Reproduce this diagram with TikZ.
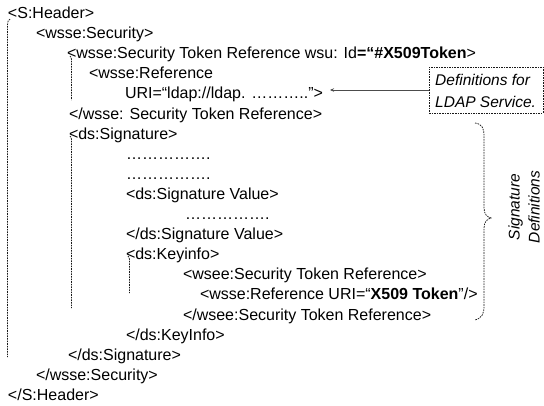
\documentclass[tikz,border=0pt]{standalone}
\usepackage{fontspec}
\setmainfont{Liberation Sans}
\usetikzlibrary{arrows.meta}
\tikzset{
  code/.style={anchor=base west, inner sep=0pt, outer sep=0pt, font=\fontsize{16}{19}\selectfont},
  guide/.style={draw=black!90, line width=0.75pt, dash pattern=on 1.6pt off 1pt},
  note/.style={guide, inner sep=0pt, minimum width=114pt, minimum height=46pt},
  notetext/.style={anchor=base west, inner sep=0pt, font=\fontsize{15.5}{19}\selectfont\itshape},
  arr/.style={draw=black!70, line width=1pt, -{Stealth[length=4pt,width=3.5pt]}}
}
\begin{document}
\begin{tikzpicture}[x=1pt,y=-1pt]
\useasboundingbox (0,0) rectangle (544,405);
% rows: baseline = 18.5 + 20.1*i
\node[code] (r0)  at (8,18.5)   {<S:Header>};
\node[code] (r1)  at (36,38.6)  {<wsse:Security>};
\node[code] (r2)  at (67,58.7)  {<wsse:Security Token Reference wsu: Id\textbf{=“\#X509Token}>};
\node[code] (r3)  at (89,78.8)  {<wsse:Reference};
\node[code] (r4)  at (125,98.9) {URI=“ldap://ldap. ………..”>};
\node[code] (r5)  at (69,119.0) {</wsse: Security Token Reference>};
\node[code] (r6)  at (69,139.1) {<ds:Signature>};
\node[code] (r7)  at (126,159.2) {…………….};
\node[code] (r8)  at (126,179.3) {…………….};
\node[code] (r9)  at (126,199.4) {<ds:Signature Value>};
\node[code] (r10) at (185,219.5) {…………….};
\node[code] (r11) at (126,239.6) {</ds:Signature Value>};
\node[code] (r12) at (126,259.7) {<ds:Keyinfo>};
\node[code] (r13) at (183,279.8) {<wsee:Security Token Reference>};
\node[code] (r14) at (200,299.9) {<wsse:Reference URI=“\textbf{X509 Token}”/>};
\node[code] (r15) at (183,320.0) {</wsee:Security Token Reference>};
\node[code] (r16) at (126,340.1) {</ds:KeyInfo>};
\node[code] (r17) at (68,360.2) {</ds:Signature>};
\node[code] (r18) at (36,380.3) {</wsse:Security>};
\node[code] (r19) at (8,400.4) {</S:Header>};
% nesting guides
\coordinate (g1a) at (10,19);  \coordinate (g1b) at (7.5,357);
\coordinate (g2a) at (70,56);  \coordinate (g2b) at (71.5,100);
\coordinate (g3a) at (70,136); \coordinate (g3b) at (71.5,308);
\coordinate (g4a) at (128,256);\coordinate (g4b) at (129.5,293);
\draw[guide] (g1a) .. controls (8,20) and (7.5,22) .. (7.5,25) -- (g1b);
\draw[guide] (g2a) .. controls (71.5,57) and (71.5,58) .. (71.5,61) -- (g2b);
\draw[guide] (g3a) .. controls (71.5,137) and (71.5,138) .. (71.5,141) -- (g3b);
\draw[guide] (g4a) .. controls (129.5,257) and (129.5,258) .. (129.5,261) -- (g4b);
% LDAP note
\node[note] (box) at (486,90) {};
\node[notetext] (bt1) at (435,85.5) {Definitions for};
\node[notetext] (bt2) at (435,107.5) {LDAP Service.};
\coordinate (arrtip) at (330,90);
\draw[arr] (box.west) -- (arrtip);
% signature brace
\coordinate (bt) at (475,123);
\coordinate (bb) at (475,320);
\draw[guide] (bt) .. controls (482,124) and (484,128) .. (484,136) -- (484,208)
  .. controls (484,214) and (487,217) .. (491,218)
  .. controls (487,219) and (484,222) .. (484,228) -- (484,306)
  .. controls (484,314) and (482,318) .. (bb);
\node[rotate=90, align=center, inner sep=0pt, font=\fontsize{15.5}{20}\selectfont\itshape] (sig) at (524,207) {Signature\\Definitions};
\end{tikzpicture}
\end{document}
